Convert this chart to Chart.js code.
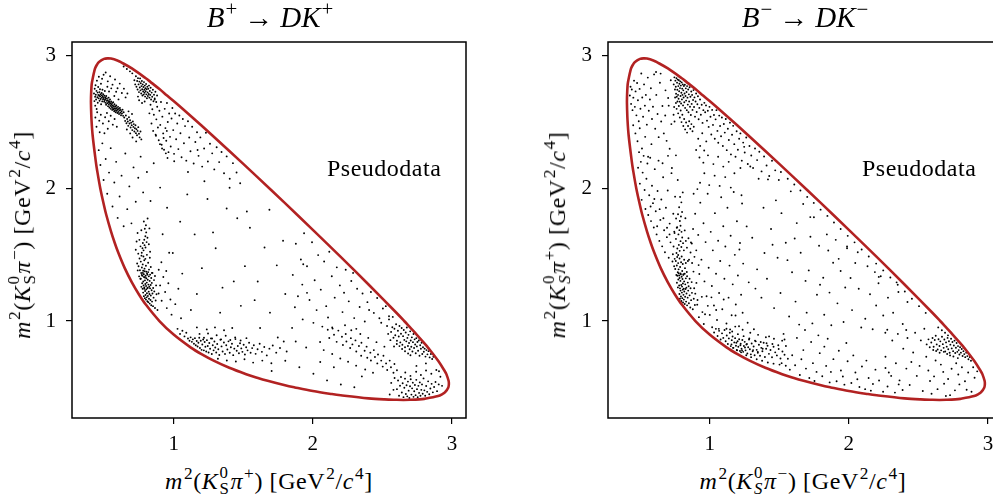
<!DOCTYPE html>
<html>
<head>
<meta charset="utf-8">
<script src="https://cdn.jsdelivr.net/npm/chart.js@4.4.1/dist/chart.umd.min.js"></script>
<style>
  html, body { margin: 0; padding: 0; background: #fff; overflow: hidden; width: 993px; height: 498px; }
  body { position: relative; font-family: 'Liberation Serif', serif; color: #000; }
  canvas { position: absolute; top: 0; }
  .txt { position: absolute; white-space: nowrap; line-height: 1; }
  .title { font-size: 29px; transform: translateX(-50%); top: 3px; }
  .title .arr { margin: 0 7px; }
  .xlab { font-size: 24px; letter-spacing: 0.6px; transform: translateX(-50%); top: 465px; }
  .ylab { font-size: 24px; letter-spacing: 0.6px; transform: translate(-50%, -50%) rotate(-90deg); top: 235px; }
  .note { font-size: 24px; letter-spacing: 0.5px; top: 156px; }
  sup { font-size: 0.72em; vertical-align: 0.55em; line-height: 0; margin-left: 1px; }
  .ks { display: inline-block; vertical-align: -0.3em; font-size: 0.7em; line-height: 0.95; margin-left: 1px; margin-right: 1px; }
  .ks span { display: block; }
</style>
</head>
<body>
<canvas id="plusChart" width="480" height="460" style="left:0px"></canvas>
<canvas id="minusChart" width="480" height="460" style="left:536px"></canvas>

<div class="txt title" style="left:270px"><i>B</i><sup>+</sup><span class="arr">&rarr;</span><i>DK</i><sup>+</sup></div>
<div class="txt xlab" style="left:269px"><i>m</i><sup>2</sup>(<i>K</i><span class="ks"><span>0</span><span>S</span></span><i>π</i><sup>+</sup>) [GeV<sup>2</sup>/<i>c</i><sup>4</sup>]</div>
<div class="txt ylab" style="left:22px"><i>m</i><sup>2</sup>(<i>K</i><span class="ks"><span>0</span><span>S</span></span><i>π</i><sup>&minus;</sup>) [GeV<sup>2</sup>/<i>c</i><sup>4</sup>]</div>
<div class="txt note" style="left:327px">Pseudodata</div>

<div class="txt title" style="left:805px"><i>B</i><sup>&minus;</sup><span class="arr">&rarr;</span><i>DK</i><sup>&minus;</sup></div>
<div class="txt xlab" style="left:803px"><i>m</i><sup>2</sup>(<i>K</i><span class="ks"><span>0</span><span><i>S</i></span></span><i>π</i><sup>&minus;</sup>) [GeV<sup>2</sup>/<i>c</i><sup>4</sup>]</div>
<div class="txt ylab" style="left:557px"><i>m</i><sup>2</sup>(<i>K</i><span class="ks"><span>0</span><span><i>S</i></span></span><i>π</i><sup>+</sup>) [GeV<sup>2</sup>/<i>c</i><sup>4</sup>]</div>
<div class="txt note" style="left:862px">Pseudodata</div>

<script>
// axis range and ticks (same on both panels)
const axisMin = 0.27;
const axisMax = 3.1;
const tickValues = [1, 2, 3];

// Dalitz boundary, going round clockwise
const boundaryX = [0.406, 0.407, 0.41, 0.414, 0.435, 0.45, 0.464, 0.50, 0.527, 0.55, 0.60, 0.618, 0.70, 0.80, 0.833,
  0.90, 0.95, 1.00, 1.062, 1.20, 1.40, 1.60, 1.80, 2.00, 2.20, 2.40, 2.60, 2.656, 2.70, 2.744, 2.80, 2.827, 2.90,
  2.95, 2.959, 2.975, 2.977, 2.973, 2.95, 2.931, 2.90, 2.80, 2.764, 2.70, 2.651, 2.60, 2.515, 2.40, 2.20, 2.137,
  2.00, 1.87, 1.80, 1.675, 1.60, 1.521, 1.40, 1.291, 1.20, 1.124, 1.00, 0.898, 0.80, 0.751, 0.70, 0.648, 0.60,
  0.573, 0.55, 0.516, 0.50, 0.473, 0.45, 0.441, 0.418, 0.41, 0.407, 0.406];
const boundaryY = [2.651, 2.70, 2.764, 2.80, 2.90, 2.931, 2.95, 2.973, 2.977, 2.975, 2.959, 2.95, 2.901, 2.827, 2.80,
  2.744, 2.70, 2.656, 2.60, 2.471, 2.280, 2.085, 1.887, 1.686, 1.483, 1.275, 1.062, 1.00, 0.95, 0.90, 0.833, 0.80, 0.70,
  0.618, 0.60, 0.55, 0.527, 0.50, 0.464, 0.45, 0.435, 0.414, 0.41, 0.407, 0.406, 0.407, 0.41, 0.418, 0.441, 0.45,
  0.473, 0.50, 0.516, 0.55, 0.573, 0.60, 0.648, 0.70, 0.751, 0.80, 0.898, 1.00, 1.124, 1.20, 1.291, 1.40, 1.521,
  1.60, 1.675, 1.80, 1.87, 2.00, 2.137, 2.20, 2.40, 2.515, 2.60, 2.651];

// ---- B+ -> DK+ pseudodata, [m2(KSpi+), m2(KSpi-)] ----
const plusTopLeft = [[0.428,2.712],[0.431,2.655],[0.433,2.748],[0.436,2.688],[0.437,2.621],[0.439,2.774],[0.441,2.703],
  [0.443,2.667],[0.446,2.732],[0.447,2.596],[0.449,2.809],[0.452,2.684],[0.454,2.719],[0.455,2.643],[0.458,2.761],[0.459,2.702],
  [0.461,2.676],[0.463,2.838],[0.465,2.695],[0.467,2.723],[0.468,2.658],[0.471,2.744],[0.472,2.689],[0.474,2.707],[0.476,2.671],
  [0.478,2.786],[0.479,2.632],[0.482,2.698],[0.483,2.716],[0.485,2.681],[0.487,2.653],[0.489,2.741],[0.491,2.692],[0.493,2.668],
  [0.494,2.707],[0.497,2.854],[0.498,2.679],[0.501,2.651],[0.503,2.695],[0.505,2.664],[0.506,2.731],[0.509,2.683],[0.511,2.642],
  [0.512,2.671],[0.515,2.628],[0.516,2.694],[0.518,2.657],[0.521,2.676],[0.523,2.639],[0.524,2.763],[0.527,2.662],[0.529,2.617],
  [0.531,2.648],[0.533,2.681],[0.535,2.631],[0.537,2.654],[0.539,2.606],[0.541,2.642],[0.543,2.668],[0.545,2.619],[0.547,2.637],
  [0.549,2.597],[0.551,2.652],[0.553,2.628],[0.556,2.611],[0.558,2.641],[0.559,2.589],[0.562,2.622],[0.564,2.603],[0.566,2.646],
  [0.568,2.594],[0.571,2.617],[0.573,2.579],[0.575,2.631],[0.577,2.602],[0.579,2.586],[0.582,2.614],[0.584,2.571],[0.586,2.598],
  [0.588,2.622],[0.591,2.583],[0.593,2.604],[0.596,2.566],[0.598,2.591],[0.601,2.612],[0.603,2.574],[0.606,2.597],[0.608,2.558],
  [0.611,2.585],[0.614,2.603],[0.617,2.567],[0.619,2.589],[0.622,2.549],[0.626,2.578],[0.629,2.562],[0.633,2.591],[0.637,2.544],
  [0.641,2.571],[0.486,2.823],[0.512,2.871],[0.527,2.804],[0.544,2.842],[0.561,2.779],[0.579,2.818],[0.597,2.752],[0.613,2.787],
  [0.628,2.716],[0.643,2.749],[0.655,2.683],[0.668,2.712],[0.536,2.727],[0.574,2.694],[0.604,2.668],[0.587,2.726],[0.552,2.751],
  [0.438,2.532],[0.451,2.571],[0.466,2.508],[0.477,2.552],[0.492,2.487],[0.508,2.534],[0.521,2.566],[0.534,2.503],[0.548,2.545],
  [0.563,2.478],[0.576,2.521],[0.592,2.462],[0.446,2.462],[0.469,2.421],[0.503,2.413],[0.527,2.447]];
const plusStreak = [[0.645,2.532],[0.652,2.506],[0.657,2.547],[0.661,2.488],[0.666,2.521],[0.671,2.502],[0.674,2.469],
  [0.679,2.534],[0.683,2.487],[0.687,2.511],[0.691,2.456],[0.695,2.493],[0.699,2.474],[0.703,2.437],[0.707,2.502],[0.711,2.461],
  [0.714,2.482],[0.718,2.426],[0.722,2.451],[0.726,2.473],[0.729,2.414],[0.733,2.444],[0.737,2.398],[0.741,2.431],[0.746,2.459],
  [0.751,2.409],[0.756,2.382],[0.762,2.426],[0.768,2.367],[0.664,2.441],[0.688,2.412],[0.705,2.381],[0.731,2.352],[0.676,2.578],
  [0.701,2.558]];
const plusTopBand = [[0.718,2.812],[0.724,2.781],[0.729,2.842],[0.733,2.763],[0.738,2.806],[0.741,2.742],[0.744,2.828],
  [0.748,2.781],[0.751,2.723],[0.754,2.802],[0.757,2.758],[0.759,2.826],[0.762,2.736],[0.764,2.789],[0.767,2.712],[0.769,2.768],
  [0.772,2.807],[0.774,2.744],[0.776,2.697],[0.778,2.781],[0.781,2.727],[0.783,2.761],[0.785,2.704],[0.787,2.798],[0.789,2.741],
  [0.791,2.718],[0.793,2.772],[0.795,2.689],[0.797,2.752],[0.799,2.729],[0.802,2.784],[0.804,2.706],[0.806,2.745],[0.808,2.677],
  [0.811,2.763],[0.813,2.721],[0.815,2.694],[0.818,2.748],[0.821,2.709],[0.823,2.772],[0.826,2.681],[0.829,2.731],[0.832,2.702],
  [0.835,2.756],[0.838,2.667],[0.842,2.719],[0.846,2.688],[0.851,2.741],[0.855,2.654],[0.859,2.703],[0.864,2.676],[0.869,2.725],
  [0.875,2.648],[0.881,2.697],[0.752,2.662],[0.773,2.641],[0.792,2.652],[0.744,2.689],[0.703,2.864],[0.686,2.879],[0.664,2.897],
  [0.641,2.916]];
const plusUpperMid = [[0.826,2.563],[0.834,2.628],[0.841,2.487],[0.847,2.594],[0.853,2.431],[0.858,2.552],[0.864,2.667],
  [0.871,2.402],[0.876,2.518],[0.882,2.613],[0.887,2.457],[0.893,2.361],[0.898,2.583],[0.904,2.476],[0.909,2.648],[0.914,2.327],
  [0.919,2.538],[0.925,2.412],[0.931,2.289],[0.936,2.597],[0.941,2.452],[0.947,2.357],[0.952,2.641],[0.958,2.498],[0.963,2.271],
  [0.968,2.562],[0.974,2.386],[0.979,2.313],[0.985,2.524],[0.991,2.603],[0.997,2.437],[1.003,2.258],[1.011,2.562],[1.018,2.368],
  [1.026,2.487],[1.034,2.294],[1.041,2.547],[1.049,2.413],[1.057,2.232],[1.066,2.521],[1.074,2.338],[1.082,2.467],[1.091,2.207],
  [1.103,2.503],[1.112,2.381],[1.121,2.278],[1.133,2.462],[1.144,2.186],[1.156,2.347],[1.168,2.421],[1.179,2.243],[1.192,2.382],
  [1.205,2.162],[1.219,2.298],[1.232,2.417],[1.246,2.201],[1.261,2.334],[1.277,2.262],[1.292,2.141],[1.309,2.308],[1.327,2.196],
  [1.344,2.272],[1.362,2.112],[1.381,2.239],[1.403,2.071],[1.426,2.188],[1.452,2.118],[1.478,2.037],[0.917,2.298],[0.944,2.262],
  [0.902,2.331],[0.956,2.227],[0.873,2.394],[0.928,2.378],[0.951,2.431]];
const plusLeftSparse = [[0.462,2.286],[0.474,2.174],[0.488,2.337],[0.497,2.061],[0.512,2.219],[0.523,1.958],[0.536,2.117],
  [0.548,2.301],[0.561,1.862],[0.574,2.043],[0.587,2.198],[0.598,1.776],[0.612,1.937],[0.626,2.094],[0.641,1.713],[0.653,2.261],
  [0.667,1.842],[0.682,2.013],[0.697,1.735],[0.712,2.156],[0.728,1.898],[0.746,2.078],[0.763,2.237],[0.781,1.968],[0.808,2.121],
  [0.834,1.903],[0.857,2.187]];
const plusVertical = [[0.781,1.214],[0.786,1.187],[0.789,1.243],[0.793,1.172],[0.795,1.226],[0.798,1.196],[0.801,1.161],
  [0.803,1.238],[0.806,1.178],[0.808,1.209],[0.811,1.149],[0.813,1.251],[0.815,1.188],[0.818,1.142],[0.821,1.221],[0.823,1.167],
  [0.826,1.203],[0.828,1.131],[0.831,1.246],[0.834,1.158],[0.836,1.192],[0.839,1.119],[0.842,1.232],[0.845,1.146],[0.848,1.207],
  [0.852,1.112],[0.856,1.176],[0.861,1.223],[0.866,1.098],[0.871,1.154],[0.877,1.201],[0.884,1.083],
  [0.764,1.318],[0.768,1.257],[0.771,1.347],[0.774,1.284],[0.777,1.243],[0.779,1.362],[0.782,1.297],[0.784,1.268],[0.787,1.331],
  [0.789,1.252],[0.792,1.374],[0.794,1.306],[0.797,1.279],[0.799,1.341],[0.802,1.263],[0.804,1.322],[0.807,1.289],[0.809,1.357],
  [0.812,1.246],[0.814,1.311],[0.817,1.368],[0.819,1.274],[0.822,1.336],[0.825,1.258],[0.828,1.302],[0.831,1.349],[0.835,1.271],
  [0.839,1.324],[0.843,1.287],[0.848,1.362],[0.853,1.249],[0.859,1.308],[0.866,1.339],[0.874,1.268],
  [0.748,1.412],[0.752,1.336],[0.755,1.471],[0.758,1.382],[0.761,1.318],[0.764,1.447],[0.767,1.361],[0.769,1.492],[0.772,1.403],
  [0.775,1.341],[0.778,1.426],[0.781,1.378],[0.783,1.486],[0.786,1.352],[0.789,1.457],[0.791,1.394],[0.794,1.327],[0.797,1.468],
  [0.801,1.416],[0.804,1.371],[0.808,1.498],[0.812,1.349],[0.817,1.438],[0.823,1.387],[0.829,1.476],[0.836,1.407],[0.844,1.362],
  [0.738,1.433],[0.742,1.381],[0.746,1.507],
  [0.771,1.514],[0.776,1.548],[0.784,1.532],[0.791,1.571],[0.798,1.553],[0.806,1.594],[0.789,1.612],[0.797,1.638],[0.803,1.667],
  [0.793,1.694],[0.801,1.721],[0.786,1.749],[0.812,1.627],[0.779,1.587],[0.762,1.562],[0.754,1.611],[0.822,1.578],[0.831,1.521],
  [0.728,1.536],[0.734,1.598],[0.741,1.662],[0.768,1.683],[0.813,1.772],[0.826,1.697],
  [0.892,1.207],[0.903,1.268],[0.914,1.153],[0.926,1.331],[0.939,1.218],[0.951,1.097],[0.962,1.284],[0.977,1.162],[0.893,1.386],
  [0.912,1.442],[0.947,1.376],[0.985,1.048],[1.012,1.127],[0.968,1.514],[1.034,1.243]];
const plusHorizontal = [[1.028,0.941],[1.046,0.903],[1.063,0.927],[1.078,0.884],[1.091,0.912],
  [1.103,0.868],[1.114,0.851],[1.122,0.877],[1.131,0.843],[1.138,0.862],[1.146,0.829],[1.153,0.871],[1.159,0.817],[1.166,0.849],
  [1.172,0.808],[1.178,0.836],[1.184,0.874],[1.189,0.797],[1.195,0.851],[1.201,0.783],[1.206,0.823],[1.212,0.861],[1.217,0.779],
  [1.223,0.842],[1.228,0.806],[1.234,0.771],[1.239,0.856],[1.245,0.812],[1.251,0.763],[1.256,0.834],[1.262,0.791],[1.268,0.869],
  [1.274,0.752],[1.281,0.818],[1.287,0.779],[1.293,0.846],[1.299,0.801],[1.306,0.763],[1.313,0.827],[1.321,0.788],[1.328,0.744],
  [1.336,0.859],[1.344,0.809],[1.352,0.771],[1.361,0.838],[1.369,0.752],[1.378,0.817],[1.386,0.786],[1.394,0.847],[1.403,0.761],
  [1.411,0.803],[1.419,0.829],[1.428,0.743],[1.436,0.792],[1.444,0.864],[1.453,0.776],[1.461,0.812],[1.469,0.757],[1.477,0.833],
  [1.486,0.794],[1.494,0.768],[1.503,0.821],[1.512,0.748],[1.521,0.802],[1.531,0.779],[1.542,0.836],[1.553,0.761],[1.564,0.796],
  [1.576,0.818],[1.589,0.753],[1.603,0.787],[1.618,0.829],[1.634,0.768],[1.651,0.804],[1.669,0.741],[1.688,0.792],[1.712,0.816],
  [1.737,0.762],[1.764,0.797],
  [1.186,0.903],[1.218,0.874],[1.247,0.906],[1.276,0.868],[1.309,0.893],[1.341,0.862],[1.374,0.889],[1.407,0.857],[1.442,0.876],
  [1.481,0.853],[1.523,0.871],[1.238,0.937],[1.297,0.952],[1.362,0.931],[1.421,0.947],[1.167,0.952],[1.318,0.716],[1.382,0.703],
  [1.447,0.695],[1.509,0.712],[1.571,0.687],[1.637,0.702],[1.702,0.682],[1.791,0.846],[1.812,0.771]];
const plusRightCluster = [[2.562,0.918],[2.571,0.953],[2.579,0.874],[2.586,0.942],[2.592,0.893],[2.598,0.976],[2.604,0.851],
  [2.611,0.927],[2.617,0.883],[2.622,0.962],[2.628,0.839],[2.633,0.904],[2.638,0.947],[2.643,0.821],[2.648,0.886],[2.653,0.932],
  [2.657,0.858],[2.662,0.802],[2.667,0.914],[2.671,0.847],[2.675,0.951],[2.679,0.873],[2.683,0.812],[2.687,0.896],[2.691,0.835],
  [2.695,0.787],[2.699,0.922],[2.703,0.853],[2.707,0.806],[2.711,0.877],[2.715,0.771],[2.719,0.841],[2.723,0.902],[2.727,0.797],
  [2.731,0.862],[2.735,0.823],[2.739,0.757],[2.743,0.871],[2.747,0.809],[2.751,0.842],[2.756,0.776],[2.761,0.853],[2.766,0.738],
  [2.771,0.817],[2.776,0.791],[2.781,0.836],[2.786,0.752],[2.791,0.803],[2.797,0.769],[2.803,0.792],[2.809,0.732],[2.816,0.781],
  [2.823,0.749],[2.831,0.773],[2.839,0.726],[2.848,0.752],[2.857,0.714],[2.866,0.731],
  [2.701,0.742],[2.684,0.756],[2.662,0.772],[2.641,0.789],[2.622,0.811],[2.603,0.827],[2.583,0.808],[2.557,0.856],[2.541,0.903],
  [2.533,0.962],[2.547,1.012],[2.574,1.031]];
const plusBottomRight = [[2.604,0.487],[2.612,0.552],[2.619,0.438],[2.626,0.513],[2.633,0.579],[2.639,0.462],[2.645,0.531],
  [2.651,0.427],[2.657,0.498],[2.662,0.566],[2.668,0.451],[2.673,0.517],[2.678,0.433],[2.683,0.544],[2.688,0.476],[2.693,0.421],
  [2.698,0.509],[2.703,0.562],[2.708,0.446],[2.713,0.493],[2.718,0.536],[2.723,0.429],[2.728,0.471],[2.733,0.518],[2.738,0.442],
  [2.743,0.557],[2.748,0.487],[2.753,0.426],[2.758,0.512],[2.763,0.459],[2.768,0.538],[2.773,0.437],[2.779,0.482],[2.784,0.523],
  [2.789,0.452],[2.795,0.568],[2.801,0.478],[2.807,0.438],[2.814,0.511],[2.821,0.467],[2.828,0.546],[2.836,0.449],[2.844,0.492],
  [2.853,0.527],[2.862,0.463],[2.871,0.503],[2.881,0.541],[2.892,0.472],[2.904,0.523],[2.916,0.581],[2.928,0.512],
  [2.664,0.612],[2.701,0.587],[2.742,0.618],[2.776,0.594],[2.813,0.627],[2.851,0.603],[2.887,0.631],[2.579,0.482],[2.563,0.534],
  [2.552,0.447],[2.587,0.571],[2.744,0.662],[2.812,0.681],[2.906,0.622]];
const plusDiagonal = [[2.107,0.934],[2.118,0.872],[2.139,0.951],[2.152,0.897],[2.171,0.843],[2.183,0.928],[2.209,0.881],
  [2.216,0.819],[2.236,0.902],[2.241,0.846],[2.268,0.797],[2.273,0.871],[2.284,0.824],[2.306,0.854],[2.312,0.771],[2.331,0.812],
  [2.347,0.739],[2.349,0.836],[2.372,0.776],[2.386,0.807],[2.391,0.724],[2.413,0.762],[2.417,0.703],[2.438,0.781],[2.446,0.729],
  [2.463,0.681],[2.468,0.748],[2.491,0.702],[2.502,0.657],[2.507,0.738],[2.526,0.681],[2.534,0.631],[2.552,0.702],[2.561,0.652],
  [2.579,0.611],[2.586,0.677],[2.604,0.629],
  [2.052,0.842],[2.078,0.781],[2.139,0.752],[2.197,0.718],[2.253,0.693],[2.311,0.664],[2.376,0.635],[2.432,0.611],[2.276,0.931],
  [2.341,0.902],[2.398,0.873],[2.457,0.841],[2.514,0.807]];
const plusUpperRight = [[1.856,1.347],[1.878,1.582],[1.893,1.186],[1.914,1.463],[1.937,1.661],[1.924,1.274],
  [1.958,1.412],[1.976,1.158],[1.994,1.593],[2.013,1.307],[2.038,1.496],[2.027,1.082],
  [2.057,1.236],[2.081,1.448],[2.096,1.112],[2.118,1.521],[2.136,1.337],[2.109,1.026],
  [2.157,1.176],[2.172,1.404],[2.194,1.268],[2.213,1.067],[2.236,1.386],[2.224,1.213],
  [2.258,1.148],[2.276,1.301],[2.297,1.022],[2.318,1.243],[2.336,1.106],[2.289,1.362],
  [2.357,1.207],[2.373,0.996],[2.392,1.142],[2.417,1.218],[2.438,1.061],[2.404,1.083],
  [2.462,1.173],[2.478,1.021],[2.503,1.094],[2.524,1.112],[2.547,1.036],[2.491,0.987],
  [1.871,1.104],[1.927,1.012],[2.004,0.986],[2.068,0.958],[2.142,0.943],[2.231,0.968],[2.312,0.941]];
const plusInterior = [[0.994,1.512],[1.047,1.748],[1.098,1.953],[1.172,2.287],[1.103,2.121],[1.243,1.918],[1.381,1.847],
  [1.457,1.773],[1.548,1.702],[1.526,1.824],[1.741,1.419],[1.931,1.427],[1.958,1.212],[1.692,1.063],[1.483,1.114],[1.203,1.398],
  [1.351,1.251],[1.604,1.297],[1.802,1.203],[1.151,1.652],[0.953,1.852],[1.302,1.548],[1.653,1.553],[1.851,0.948],[1.748,0.876],
  [1.952,0.801],[1.621,0.947],[1.903,0.652],[2.004,0.603],[2.102,0.553],[2.201,0.522],[2.298,0.502],[1.802,0.701],[1.704,0.624],
  [2.352,0.583],[2.151,0.652],[1.053,1.021],[1.124,1.083],[1.402,2.003],[1.221,2.052],[0.921,1.653],[0.903,2.004],[1.004,2.203],
  [1.283,1.667],[1.512,1.413],[1.786,1.604],[1.432,1.298],[1.167,1.203],[1.582,1.157],[1.877,0.846],[2.053,0.692],[1.062,1.357],
  [1.334,1.063],[1.688,1.837]];

// ---- B- -> DK- pseudodata, [m2(KSpi-), m2(KSpi+)] ----
const minusTopDense = [[0.742,2.781],[0.747,2.834],[0.751,2.742],[0.754,2.809],[0.757,2.763],[0.759,2.711],[0.762,2.827],
  [0.764,2.688],[0.766,2.794],[0.768,2.741],[0.771,2.817],[0.773,2.702],[0.775,2.768],[0.777,2.673],[0.779,2.812],[0.781,2.729],
  [0.783,2.786],[0.785,2.651],[0.787,2.753],[0.789,2.804],[0.791,2.694],[0.793,2.772],[0.795,2.637],[0.797,2.718],[0.799,2.796],
  [0.801,2.668],[0.803,2.749],[0.805,2.702],[0.807,2.781],[0.809,2.623],[0.811,2.736],[0.813,2.682],[0.815,2.769],[0.818,2.646],
  [0.820,2.712],[0.822,2.778],[0.824,2.604],[0.827,2.693],[0.829,2.751],[0.831,2.659],[0.834,2.724],[0.836,2.587],[0.838,2.768],
  [0.841,2.681],[0.843,2.629],[0.846,2.742],[0.848,2.571],[0.851,2.706],[0.853,2.652],[0.856,2.759],[0.859,2.613],[0.862,2.688],
  [0.865,2.551],[0.868,2.727],[0.871,2.634],[0.874,2.702],[0.877,2.589],[0.881,2.664],[0.884,2.738],[0.888,2.611],[0.891,2.683],
  [0.895,2.538],[0.899,2.652],[0.903,2.712],[0.907,2.573],[0.912,2.631],[0.916,2.692],[0.921,2.519],[0.926,2.604],[0.931,2.667],
  [0.937,2.553],[0.943,2.628],[0.949,2.491],[0.955,2.587],[0.962,2.642],
  [0.752,2.682],[0.758,2.641],[0.763,2.597],[0.769,2.652],[0.774,2.563],[0.779,2.618],[0.786,2.532],[0.792,2.584],[0.798,2.497],
  [0.804,2.552],[0.811,2.468],[0.817,2.521],[0.824,2.442],[0.831,2.494],[0.838,2.418],[0.845,2.468],[0.853,2.503],[0.861,2.447],
  [0.869,2.482],[0.877,2.428],[0.886,2.462],[0.745,2.611],[0.741,2.553],[0.748,2.502]];
const minusUpperEdge = [[0.968,2.571],[0.974,2.623],[0.981,2.508],[0.987,2.583],[0.993,2.461],[0.999,2.612],[1.006,2.537],
  [1.012,2.404],[1.018,2.589],[1.024,2.476],[1.031,2.551],[1.037,2.372],[1.043,2.518],[1.049,2.587],[1.056,2.431],[1.062,2.342],
  [1.069,2.546],[1.075,2.468],[1.082,2.391],[1.088,2.532],[1.095,2.317],[1.102,2.483],[1.109,2.418],[1.116,2.521],[1.123,2.286],
  [1.131,2.447],[1.138,2.362],[1.146,2.493],[1.153,2.254],[1.161,2.402],[1.169,2.469],[1.177,2.331],[1.186,2.236],[1.194,2.428],
  [1.203,2.289],[1.212,2.372],[1.221,2.412],[1.231,2.207],[1.241,2.343],[1.252,2.268],[1.263,2.381],[1.274,2.182],[1.286,2.317],
  [1.299,2.246],[1.312,2.152],[1.326,2.298],[1.341,2.211],[1.357,2.274],[1.373,2.126],[1.391,2.238],[1.409,2.171],[1.428,2.092],
  [1.448,2.206],[1.471,2.134],[1.497,2.061],
  [0.918,2.372],[0.932,2.318],[0.947,2.413],[0.961,2.283],[0.976,2.352],[0.903,2.287],[0.927,2.231],[0.955,2.192],[0.988,2.247],
  [1.027,2.181],[1.061,2.236],[1.098,2.162],[1.137,2.198],[1.178,2.112],[1.221,2.152]];
const minusTopLeft = [[0.427,2.697],[0.432,2.763],[0.436,2.634],[0.441,2.742],[0.446,2.587],[0.452,2.681],[0.457,2.809],
  [0.463,2.612],[0.468,2.728],[0.474,2.548],[0.479,2.791],[0.485,2.662],[0.491,2.503],[0.497,2.747],[0.503,2.598],[0.509,2.863],
  [0.516,2.682],[0.522,2.537],[0.529,2.781],[0.535,2.621],[0.542,2.702],[0.549,2.478],[0.556,2.832],[0.563,2.583],[0.571,2.667],
  [0.578,2.752],[0.586,2.521],[0.593,2.613],[0.601,2.856],[0.609,2.447],[0.617,2.702],[0.626,2.558],[0.634,2.384],[0.643,2.793],
  [0.652,2.502],[0.661,2.618],[0.671,2.412],[0.681,2.547],[0.691,2.356],[0.702,2.678],[0.713,2.296],[0.725,2.482],
  [0.451,2.473],[0.467,2.412],[0.482,2.353],[0.498,2.451],[0.514,2.298],[0.537,2.386],[0.558,2.236],[0.582,2.331],[0.615,2.874],
  [0.648,2.862],[0.683,2.736],[0.706,2.621],[0.721,2.812]];
const minusLeftMid = [[0.486,2.153],[0.493,2.271],[0.499,2.034],[0.506,2.198],[0.512,1.912],[0.519,2.117],[0.526,2.243],
  [0.533,1.986],[0.539,1.843],[0.546,2.071],[0.553,2.186],[0.559,1.798],[0.566,1.947],[0.573,2.229],[0.579,1.752],[0.586,2.018],
  [0.593,1.887],[0.599,1.704],[0.606,2.143],[0.613,1.826],[0.619,1.652],[0.626,1.978],[0.633,2.207],[0.639,1.603],[0.646,1.761],
  [0.653,1.914],[0.659,1.562],[0.666,2.082],[0.673,1.683],[0.679,1.517],[0.686,1.853],[0.693,1.631],[0.699,1.982],[0.706,1.476],
  [0.713,1.733],[0.719,1.592],[0.726,2.113],[0.733,1.448],[0.739,1.807],[0.746,1.673],[0.752,1.936],[0.758,2.247],[0.764,1.702],
  [0.771,2.061],[0.623,1.713],[0.641,1.842],[0.668,1.774],[0.694,1.702],[0.712,1.652],[0.576,1.862],[0.603,1.918],[0.662,2.187],
  [0.701,2.243],[0.729,2.152]];
const minusVertical = [[0.783,1.203],[0.787,1.168],[0.791,1.229],[0.794,1.184],[0.797,1.151],[0.801,1.214],[0.804,1.172],
  [0.807,1.236],[0.809,1.139],[0.812,1.197],[0.815,1.161],[0.818,1.222],[0.821,1.128],[0.824,1.183],[0.827,1.241],[0.831,1.146],
  [0.834,1.207],[0.838,1.118],[0.842,1.176],[0.846,1.229],[0.851,1.134],[0.856,1.193],[0.861,1.102],[0.867,1.157],[0.873,1.212],
  [0.879,1.089],[0.886,1.168],[0.894,1.121],
  [0.765,1.288],[0.768,1.341],[0.772,1.253],[0.775,1.312],[0.778,1.359],[0.781,1.267],[0.784,1.324],[0.787,1.246],[0.790,1.302],
  [0.793,1.351],[0.796,1.271],[0.799,1.333],[0.802,1.259],[0.805,1.316],[0.808,1.282],[0.811,1.347],[0.814,1.243],[0.817,1.298],
  [0.821,1.356],[0.825,1.276],[0.829,1.321],[0.833,1.251],[0.838,1.337],[0.843,1.289],[0.849,1.262],[0.856,1.318],[0.863,1.247],
  [0.871,1.293],
  [0.753,1.391],[0.757,1.452],[0.761,1.346],[0.764,1.418],[0.767,1.482],[0.771,1.367],[0.774,1.436],[0.777,1.389],[0.781,1.343],
  [0.784,1.471],[0.788,1.407],[0.791,1.358],[0.795,1.442],[0.799,1.486],[0.803,1.376],[0.807,1.429],[0.812,1.352],[0.817,1.461],
  [0.823,1.398],[0.829,1.437],[0.836,1.369],[0.844,1.452],[0.745,1.412],[0.749,1.468],
  [0.762,1.512],[0.768,1.546],[0.774,1.497],[0.779,1.573],[0.785,1.528],[0.791,1.601],[0.797,1.557],[0.803,1.629],[0.809,1.586],
  [0.815,1.532],[0.776,1.652],[0.783,1.684],[0.791,1.717],[0.798,1.671],[0.786,1.753],[0.794,1.787],[0.802,1.821],[0.781,1.856],
  [0.797,1.893],[0.788,1.934],[0.807,1.968],[0.758,1.618],[0.767,1.706],[0.773,1.803],[0.821,1.682],[0.826,1.774],[0.829,1.603],
  [0.741,1.561],[0.736,1.502],[0.748,1.662],[0.759,1.771],
  [0.884,1.372],[0.897,1.206],[0.905,1.287],[0.913,1.158],[0.921,1.421],[0.852,1.462],[0.863,1.516],[0.874,1.437],[0.891,1.483],
  [0.837,1.552],[0.848,1.623],[0.866,1.591]];
const minusLeftInner = [[0.872,1.583],[0.881,1.692],[0.889,1.247],[0.896,1.807],[0.904,1.532],[0.911,1.123],[0.918,1.648],
  [0.926,1.354],[0.933,1.891],[0.941,1.462],[0.948,1.067],[0.956,1.736],[0.963,1.298],[0.971,1.594],[0.978,1.186],[0.986,1.958],
  [0.993,1.401],[1.001,1.046],[1.008,1.671],[1.016,1.263],[1.023,1.532],[1.031,1.117],[1.038,1.812],[1.046,1.356],[1.053,1.008],
  [1.061,1.604],[1.068,1.211],[1.076,1.452],[1.083,1.932],[1.091,1.089],[1.098,1.713],[1.106,1.318],[1.113,1.561],[1.121,0.981],
  [1.128,1.852],[1.136,1.176],[1.143,1.417],[1.151,1.642],[1.158,1.043],[1.166,1.276],[1.173,1.971],[1.181,1.498],[1.188,1.124],
  [1.196,1.751],[1.203,1.342],[1.211,0.961],[1.218,1.587],[1.226,1.198],[1.233,1.884],[1.241,1.432],[0.931,2.041],[0.962,2.112],
  [0.997,2.023],[1.036,2.094],[1.072,2.017],[1.112,2.083],[1.152,2.004],[0.885,1.958],[0.912,1.993],[0.944,1.182],[0.967,1.051],
  [1.013,1.178],[1.047,1.083],[0.923,1.029],[0.958,0.978],[0.987,1.114],[1.066,0.941],[1.101,1.162],[1.147,0.937],[1.186,1.042]];
const minusBottomDense = [[1.018,0.953],[1.032,0.914],[1.045,0.941],[1.057,0.887],[1.068,0.926],[1.079,0.861],[1.089,0.907],
  [1.098,0.873],[1.107,0.932],[1.115,0.848],[1.123,0.891],[1.131,0.827],[1.138,0.869],[1.145,0.912],[1.152,0.811],[1.159,0.856],
  [1.165,0.883],[1.171,0.798],[1.177,0.839],[1.183,0.871],[1.189,0.814],[1.195,0.782],[1.201,0.848],[1.206,0.806],[1.212,0.863],
  [1.218,0.774],[1.223,0.829],[1.229,0.791],[1.235,0.857],[1.241,0.768],[1.246,0.812],[1.252,0.843],[1.258,0.779],[1.264,0.823],
  [1.271,0.756],[1.277,0.802],[1.283,0.861],[1.289,0.787],[1.296,0.749],[1.302,0.831],[1.309,0.772],[1.316,0.808],[1.323,0.742],
  [1.331,0.847],[1.338,0.783],[1.346,0.761],[1.354,0.821],[1.362,0.738],[1.371,0.798],[1.379,0.772],[1.388,0.836],[1.397,0.729],
  [1.406,0.791],[1.416,0.814],[1.426,0.753],[1.437,0.782],[1.448,0.727],[1.459,0.806],[1.471,0.764],[1.483,0.741],[1.496,0.789],
  [1.509,0.718],[1.523,0.771],[1.538,0.746],
  [1.121,0.942],[1.162,0.921],[1.203,0.901],[1.244,0.886],[1.285,0.868],[1.326,0.852],[1.367,0.842],[1.409,0.833],[1.451,0.827],
  [1.493,0.818],[1.184,0.958],[1.237,0.934],[1.292,0.912],[1.348,0.896],[1.404,0.878],[1.462,0.866],[1.521,0.852],[1.197,0.779],
  [1.226,0.764],[1.263,0.742],[1.298,0.728],[1.338,0.712],[1.377,0.701],[1.418,0.688],[1.459,0.679],[1.502,0.672],[1.547,0.663],
  [1.168,0.798],[1.254,0.801],[1.312,0.781],[1.268,0.827],[1.221,0.817],[1.346,0.768],[1.381,0.791],[1.157,0.824],[1.192,0.836],
  [1.233,0.779]];
const minusBottomEdge = [[1.517,0.683],[1.548,0.812],[1.576,0.634],[1.593,0.742],[1.531,0.903],[1.562,0.716],
  [1.614,0.667],[1.648,0.594],[1.673,0.781],[1.692,0.642],[1.627,0.873],[1.659,0.712],[1.685,0.932],
  [1.716,0.571],[1.742,0.683],[1.768,0.617],[1.791,0.758],[1.729,0.842],[1.753,0.549],[1.781,0.892],
  [1.809,0.584],[1.837,0.662],[1.862,0.538],[1.889,0.713],[1.824,0.807],[1.871,0.617],[1.848,0.866],
  [1.912,0.547],[1.943,0.628],[1.968,0.521],[1.991,0.697],[1.928,0.776],[1.957,0.582],[1.982,0.834],
  [2.018,0.533],[2.047,0.612],[2.076,0.503],[2.094,0.658],[2.032,0.741],[2.061,0.562],
  [2.117,0.487],[2.142,0.571],[2.173,0.526],[2.191,0.634],[2.126,0.702],[2.158,0.476],
  [2.217,0.552],[2.246,0.468],[2.278,0.507],[2.304,0.587],[2.331,0.461],[2.358,0.523],[2.386,0.481],[2.263,0.646]];
const minusRightCluster = [[2.592,0.838],[2.601,0.872],[2.609,0.806],[2.617,0.857],[2.624,0.889],[2.631,0.824],[2.638,0.786],
  [2.644,0.863],[2.651,0.812],[2.657,0.847],[2.663,0.779],[2.669,0.882],[2.675,0.826],[2.681,0.798],[2.686,0.861],[2.692,0.771],
  [2.698,0.839],[2.703,0.807],[2.709,0.873],[2.714,0.788],[2.719,0.848],[2.724,0.761],[2.729,0.822],[2.734,0.867],[2.739,0.794],
  [2.744,0.842],[2.749,0.773],[2.754,0.816],[2.759,0.852],[2.764,0.759],[2.769,0.799],[2.774,0.834],[2.779,0.768],[2.784,0.811],
  [2.789,0.781],[2.794,0.748],[2.799,0.803],[2.805,0.762],[2.811,0.789],[2.817,0.737],[2.823,0.773],[2.829,0.751],[2.836,0.728],
  [2.843,0.762],[2.851,0.736],[2.859,0.712],[2.868,0.729],[2.877,0.701],
  [2.712,0.892],[2.691,0.912],[2.668,0.931],[2.642,0.952],[2.727,0.741],[2.751,0.733],[2.783,0.721],[2.706,0.752],[2.682,0.768],
  [2.652,0.761],[2.627,0.774],[2.606,0.782],[2.581,0.803],[2.572,0.862],[2.559,0.824],
  [2.263,0.731],[2.287,0.612],[2.312,0.853],[2.338,0.682],[2.364,0.553],[2.391,0.792],[2.276,0.934],[2.352,0.903],
  [2.413,0.642],[2.437,0.518],[2.462,0.763],[2.488,0.587],[2.421,0.872],[2.476,0.912],[2.449,0.692],
  [2.508,0.662],[2.531,0.473],[2.556,0.731],[2.583,0.548],[2.517,0.854],[2.571,0.627],[2.594,0.452],[2.542,0.942],
  [2.612,0.583],[2.637,0.487],[2.661,0.672],[2.684,0.528],[2.623,0.703],[2.678,0.617],[2.697,0.436],
  [2.713,0.563],[2.738,0.641],[2.762,0.478],[2.786,0.597],[2.727,0.442],[2.771,0.682],[2.794,0.523],
  [2.812,0.652],[2.834,0.547],[2.857,0.612],[2.881,0.468],[2.903,0.573],[2.922,0.621],[2.846,0.483],[2.893,0.652]];
const minusInterior = [[1.237,1.062],[1.281,1.291],[1.214,1.538],[1.266,1.712],[1.229,1.947],[1.292,2.163],[1.248,2.311],
  [1.273,0.987],[1.318,0.938],[1.372,1.176],[1.341,1.389],[1.306,1.627],[1.387,1.853],[1.352,2.071],[1.329,1.244],[1.394,1.512],
  [1.427,0.884],[1.463,1.097],[1.412,1.318],[1.488,1.476],[1.441,1.693],[1.476,1.908],[1.419,2.066],[1.452,1.574],
  [1.538,0.861],[1.571,1.034],[1.509,1.211],[1.592,1.367],[1.547,1.589],[1.516,1.812],[1.583,1.976],[1.559,1.458],
  [1.643,0.973],[1.617,1.146],[1.689,1.302],[1.654,1.514],[1.626,1.737],[1.672,1.881],[1.697,1.063],[1.611,1.621],
  [1.738,0.982],[1.771,1.198],[1.712,1.381],[1.786,1.567],[1.749,1.781],[1.724,1.634],[1.793,1.273],
  [1.823,1.047],[1.861,1.214],[1.887,1.439],[1.842,1.652],[1.816,1.326],[1.874,0.968],[1.852,1.531],
  [1.918,1.133],[1.962,0.992],[1.941,1.376],[1.987,1.548],[1.906,1.611],[1.974,1.252],[1.927,1.468],
  [2.023,1.082],[2.071,1.243],[2.046,1.437],[2.089,0.951],[2.012,1.324],[2.064,1.518],
  [2.118,1.017],[2.152,1.201],[2.187,1.368],[2.134,1.412],[2.171,0.938],[2.196,1.117],
  [2.213,1.284],[2.247,1.041],[2.281,1.176],[2.262,0.912],[2.229,1.337],
  [2.318,1.062],[2.356,1.218],[2.387,0.978],[2.421,1.143],[2.343,1.291],[2.412,0.932]];
const minusUpperRight = [[1.512,2.121],[1.561,2.071],[1.608,2.028],[1.652,1.982],[1.701,1.934],[1.748,1.889],[1.797,1.838],
  [1.846,1.791],[1.893,1.741],[1.941,1.692],[1.992,1.641],[2.041,1.592],[2.092,1.538],[2.143,1.486],[2.196,1.432],[2.247,1.381],
  [2.298,1.328],[2.351,1.273],[2.402,1.222],[2.453,1.168],[2.504,1.112],[2.552,1.061],[1.723,1.782],[1.987,1.561],[2.215,1.332]];

const plusPoints = [].concat(plusTopLeft, plusStreak, plusTopBand, plusUpperMid, plusLeftSparse, plusVertical,
  plusHorizontal, plusRightCluster, plusBottomRight, plusDiagonal, plusUpperRight, plusInterior);
const minusPoints = [].concat(minusTopDense, minusUpperEdge, minusTopLeft, minusLeftMid, minusVertical, minusLeftInner,
  minusBottomDense, minusBottomEdge, minusRightCluster, minusInterior, minusUpperRight);

// draws the closed box round the plot area
const framePlugin = {
  id: 'frame',
  afterDraw(chart) {
    const { ctx, chartArea: a } = chart;
    ctx.save();
    ctx.strokeStyle = '#000';
    ctx.lineWidth = 1.5;
    ctx.strokeRect(a.left, a.top, a.right - a.left, a.bottom - a.top);
    ctx.restore();
  }
};

function axisOptions(isX) {
  return {
    type: 'linear',
    min: axisMin,
    max: axisMax,
    afterBuildTicks: scale => { scale.ticks = tickValues.map(v => ({ value: v })); },
    afterFit: scale => { if (isX) scale.height = 42; else scale.width = 72; },
    grid: { drawOnChartArea: false, drawTicks: true, tickLength: 6, color: '#000', lineWidth: 1.2 },
    border: { display: false },
    ticks: {
      color: '#000',
      font: { family: 'Liberation Serif', size: 21 },
      padding: isX ? 8 : 10,
      maxRotation: 0,
      autoSkip: false,
      callback: v => String(v)
    }
  };
}

function makeChart(canvasId, points) {
  const ctx = document.getElementById(canvasId);
  return new Chart(ctx, {
    type: 'scatter',
    data: {
      datasets: [
        {
          data: boundaryX.map((x, i) => ({ x: x, y: boundaryY[i] })),
          showLine: true,
          borderColor: '#b22222',
          borderWidth: 2.6,
          pointRadius: 0,
          tension: 0.35,
          fill: false,
          order: 0
        },
        {
          data: points.map(p => ({ x: p[0], y: p[1] })),
          showLine: false,
          pointRadius: 0.95,
          pointBackgroundColor: '#000',
          pointBorderWidth: 0,
          order: 1
        }
      ]
    },
    options: {
      responsive: false,
      animation: false,
      devicePixelRatio: 1,
      events: [],
      layout: { padding: { top: 42, right: 14, left: 0, bottom: 0 } },
      plugins: { legend: { display: false }, tooltip: { enabled: false } },
      scales: { x: axisOptions(true), y: axisOptions(false) }
    },
    plugins: [framePlugin]
  });
}

makeChart('plusChart', plusPoints);
makeChart('minusChart', minusPoints);
</script>
</body>
</html>
